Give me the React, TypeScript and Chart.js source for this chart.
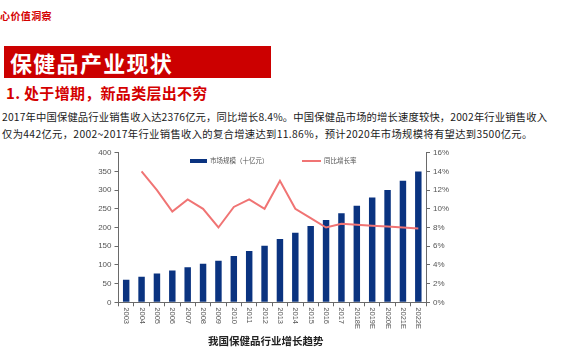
import React, { useEffect, useRef } from "react";
import { Chart, registerables } from "chart.js";

Chart.register(...registerables);

const categories = [
  "2003", "2004", "2005", "2006", "2007", "2008", "2009", "2010", "2011", "2012",
  "2013", "2014", "2015", "2016", "2017", "2018E", "2019E", "2020E", "2021E", "2022E",
];
const marketSize = [60, 68, 77, 85, 94, 103, 111, 124, 137, 151, 169, 186, 204, 220, 238, 258, 280, 300, 325, 350];
const growthRate = [null, 14.0, 12.0, 9.7, 11.0, 10.0, 8.0, 10.2, 11.0, 10.0, 13.0, 10.0, 9.0, 8.0, 8.4, 8.3, 8.2, 8.1, 8.0, 7.9];

const barLabel = "市场规模（十亿元）";
const lineLabel = "同比增长率";
const headerText = "心价值洞察";
const titleText = "保健品产业现状";
const subTitleText = "1. 处于增期，新品类层出不穷";
const bodyLine1 = "2017年中国保健品行业销售收入达2376亿元，同比增长8.4%。中国保健品市场的增长速度较快，2002年行业销售收入";
const bodyLine2 = "仅为442亿元，2002~2017年行业销售收入的复合增速达到11.86%，预计2020年市场规模将有望达到3500亿元。";
const captionText = "我国保健品行业增长趋势";

const BAR_COLOR = "#0a3380";
const LINE_COLOR = "#f07474";
const AXIS_COLOR = "#6a6a6a";
const CJK = '"Noto Sans CJK SC", "Noto Sans", sans-serif';

const rotatedXLabels = {
  id: "rotatedXLabels",
  afterDraw(chart: any) {
    const scale = chart.scales.x;
    const ctx = chart.ctx;
    ctx.save();
    ctx.fillStyle = "#555";
    ctx.font = '7.5px "Liberation Sans", Arial, sans-serif';
    ctx.textAlign = "left";
    ctx.textBaseline = "middle";
    const labels = chart.data.labels as string[];
    labels.forEach((lab, i) => {
      const x = scale.getPixelForTick(i);
      const y = chart.chartArea.bottom + 5;
      ctx.save();
      ctx.translate(x, y);
      ctx.rotate(Math.PI / 2);
      ctx.fillText(lab, 0, 0);
      ctx.restore();
    });
    ctx.restore();
  },
};

export default function App() {
  const canvasRef = useRef<HTMLCanvasElement | null>(null);

  useEffect(() => {
    if (!canvasRef.current) return;
    const chart = new Chart(canvasRef.current, {
      type: "bar",
      data: {
        labels: categories,
        datasets: [
          {
            type: "line",
            label: lineLabel,
            data: growthRate as any,
            yAxisID: "y1",
            borderColor: LINE_COLOR,
            backgroundColor: LINE_COLOR,
            borderWidth: 2,
            pointRadius: 0,
            tension: 0,
            order: 0,
          } as any,
          {
            type: "bar",
            label: barLabel,
            data: marketSize,
            yAxisID: "y",
            backgroundColor: BAR_COLOR,
            categoryPercentage: 1,
            barPercentage: 0.42,
            order: 1,
          },
        ],
      },
      options: {
        animation: false,
        responsive: false,
        maintainAspectRatio: false,
        layout: { padding: { top: 12.7, left: 0, right: 0, bottom: 0 } },
        plugins: { legend: { display: false }, tooltip: { enabled: false } },
        scales: {
          x: {
            offset: true,
            grid: {
              offset: true,
              drawOnChartArea: false,
              drawTicks: true,
              tickLength: 4,
              color: AXIS_COLOR,
            },
            border: { color: AXIS_COLOR },
            ticks: { color: "rgba(0,0,0,0)", autoSkip: false, minRotation: 90, maxRotation: 90, font: { size: 7 } },
            afterFit: (s: any) => {
              s.height = 42.7;
            },
          },
          y: {
            position: "left",
            min: 0,
            max: 400,
            ticks: {
              stepSize: 50,
              color: "#555",
              padding: 3,
              font: { family: '"Liberation Sans", Arial, sans-serif', size: 8 },
            },
            grid: { drawOnChartArea: false, drawTicks: true, tickLength: 4, color: AXIS_COLOR },
            border: { color: AXIS_COLOR },
            afterFit: (s: any) => {
              s.width = 58.5;
            },
          },
          y1: {
            position: "right",
            min: 0,
            max: 16,
            ticks: {
              stepSize: 2,
              color: "#555",
              padding: 3,
              font: { family: '"Liberation Sans", Arial, sans-serif', size: 8 },
              callback: (v: any) => `${v}%`,
            },
            grid: { drawOnChartArea: false, drawTicks: true, tickLength: 4, color: AXIS_COLOR },
            border: { color: AXIS_COLOR },
            afterFit: (s: any) => {
              s.width = 54;
            },
          },
        },
      },
      plugins: [rotatedXLabels],
    });
    return () => chart.destroy();
  }, []);

  return (
    <div
      style={{
        position: "absolute",
        left: 0,
        top: 0,
        width: 570,
        height: 360,
        background: "#fff",
        overflow: "hidden",
        fontFamily: CJK,
      }}
    >
      <div
        style={{
          position: "absolute",
          left: 0,
          top: 9,
          fontSize: 10,
          fontWeight: 700,
          color: "#d40000",
          letterSpacing: 0.4,
          whiteSpace: "nowrap",
          lineHeight: "14px",
        }}
      >
        {headerText}
      </div>
      <div
        style={{
          position: "absolute",
          left: 4,
          top: 46,
          width: 267,
          height: 32,
          background: "#cc0000",
        }}
      />
      <div
        style={{
          position: "absolute",
          left: 10,
          top: 46,
          height: 32,
          lineHeight: "32px",
          fontSize: 22,
          fontWeight: 700,
          color: "#fff",
          letterSpacing: 1.3,
          whiteSpace: "nowrap",
        }}
      >
        {titleText}
      </div>
      <div
        style={{
          position: "absolute",
          left: 6,
          top: 84,
          lineHeight: "18px",
          fontSize: 15,
          fontWeight: 700,
          color: "#d40000",
          letterSpacing: 0.3,
          whiteSpace: "nowrap",
        }}
      >
        {subTitleText}
      </div>
      <div
        style={{
          position: "absolute",
          left: 2,
          top: 109,
          lineHeight: "16.5px",
          fontSize: 10.3,
          color: "#1a1a1a",
          whiteSpace: "nowrap",
        }}
      >
        <div style={{ letterSpacing: 0.17 }}>{bodyLine1}</div>
        <div style={{ letterSpacing: 0.34 }}>{bodyLine2}</div>
      </div>
      <canvas
        ref={canvasRef}
        width={420}
        height={205}
        style={{ position: "absolute", left: 60, top: 140, width: 420, height: 205 }}
      />
      <div
        style={{
          position: "absolute",
          left: 190,
          top: 159,
          width: 17,
          height: 3.5,
          background: BAR_COLOR,
        }}
      />
      <div
        style={{
          position: "absolute",
          left: 210,
          top: 155,
          fontSize: 6.5,
          lineHeight: "11px",
          color: "#555",
          whiteSpace: "nowrap",
        }}
      >
        {barLabel}
      </div>
      <div
        style={{
          position: "absolute",
          left: 302,
          top: 159.5,
          width: 19,
          height: 2,
          background: LINE_COLOR,
        }}
      />
      <div
        style={{
          position: "absolute",
          left: 324,
          top: 155,
          fontSize: 6.5,
          lineHeight: "11px",
          color: "#555",
          whiteSpace: "nowrap",
        }}
      >
        {lineLabel}
      </div>
      <div
        style={{
          position: "absolute",
          left: 208,
          top: 334,
          fontSize: 10.5,
          lineHeight: "14px",
          fontWeight: 700,
          color: "#222",
          whiteSpace: "nowrap",
        }}
      >
        {captionText}
      </div>
    </div>
  );
}
